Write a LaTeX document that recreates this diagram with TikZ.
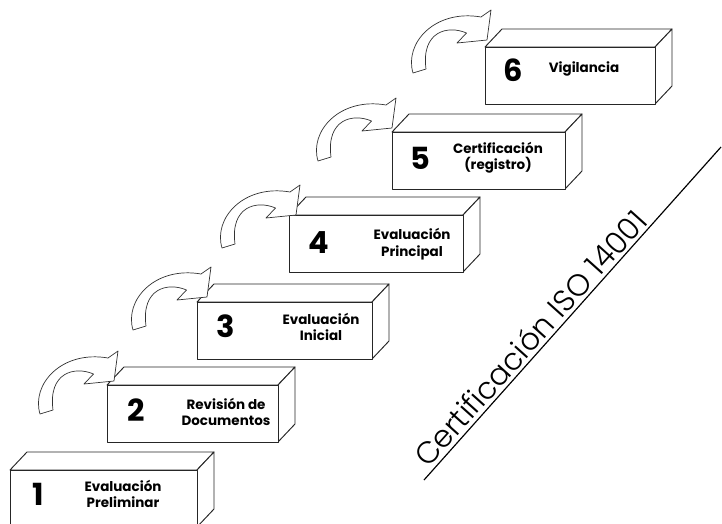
\documentclass[tikz,border=0pt]{standalone}
\usepackage{fontspec}
\setmainfont{Poppins}
\newfontfamily\titlefont{Poppins}[UprightFont={* Light}]
\begin{document}
\begin{tikzpicture}[x=0.03cm,y=-0.03cm,
  boxline/.style={draw=black!85, line width=0.8pt, line join=round, fill=white},
  arrowline/.style={draw=black!80, line width=0.6pt, fill=white, line join=round},
  num/.style={font=\bfseries\fontsize{26}{26}\selectfont, inner sep=0pt},
  lab/.style={font=\bfseries\fontsize{11.5}{14}\selectfont, align=center, inner sep=0pt},
  big/.style={font=\titlefont\fontsize{26}{26}\selectfont, inner sep=0pt, anchor=base west, rotate=48.1},
  pics/bentarrow/.style={code={
    \draw[arrowline] (0,0) .. controls (-9,-30) and (22,-64) .. (68,-56)
      -- (78,-63) -- (74,-33) -- (44,-30) -- (53.5,-40)
      .. controls (35,-48) and (8,-42) .. (13,-4) -- cycle;
  }}]
\useasboundingbox (0,0) rectangle (722,523);

% a block seen from the front-left: front face, top face and right face
\newcommand\stepblock[5]{% name, x, y, width, height
  \coordinate (#1) at (#2,#3);
  \draw[boxline] (#2,#3) -- ++(17,-18) -- ++(#4,0) -- ++(-17,18) -- cycle;
  \draw[boxline] (#2+#4,#3) -- ++(17,-18) -- ++(0,#5) -- ++(-17,18) -- cycle;
  \draw[boxline] (#2,#3) rectangle ++(#4,#5);
}

\stepblock{b1}{10}{470}{187}{57}
\stepblock{b2}{107}{385}{171}{57}
\stepblock{b3}{197}{302}{175}{57}
\stepblock{b4}{289}{215}{174}{57}
\stepblock{b5}{392}{132}{173}{57}
\stepblock{b6}{485}{47}{170}{57}

% curved arrows climbing from one step to the next
\pic at (40,414) {bentarrow};
\pic at (133,330) {bentarrow};
\pic at (222,248) {bentarrow};
\pic at (318,161) {bentarrow};
\pic at (413,73) {bentarrow};

% step numbers and names
\node[num] (n1) at (38,494) {1};
\node[lab] (l1) at (123,494) {Evaluación\\Preliminar};
\node[num] (n2) at (136,410) {2};
\node[lab] (l2) at (226,412) {Revisión de\\Documentos};
\node[num] (n3) at (226,326) {3};
\node[lab] (l3) at (321,327) {Evaluación\\Inicial};
\node[num] (n4) at (319,243) {4};
\node[lab] (l4) at (412,244) {Evaluación\\Principal};
\node[num] (n5) at (420,158) {5};
\node[lab] (l5) at (498,158) {Certificación\\(registro)};
\node[num] (n6) at (513,70) {6};
\node[lab] (l6) at (584,69) {Vigilancia};

% diagonal title with its rising line
\coordinate (lineA) at (424,480);
\coordinate (lineB) at (721,147);
\draw[line width=1pt] (lineA) -- (lineB);
\node[big] (title) at (428,469) {Certificación ISO 14001};
\end{tikzpicture}
\end{document}
